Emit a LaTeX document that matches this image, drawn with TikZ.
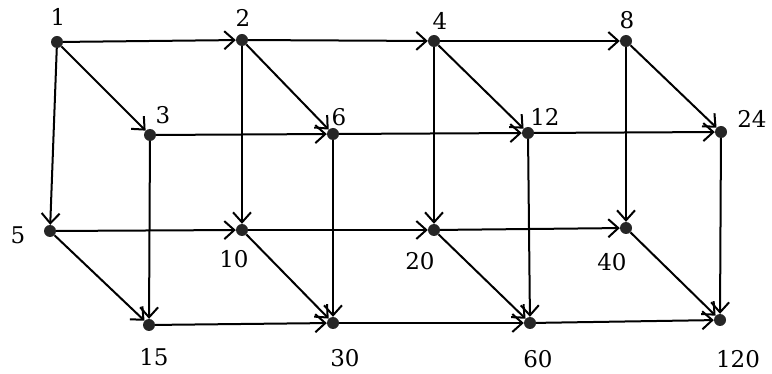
\documentclass[tikz,border=0pt]{standalone}
\usepackage{fontspec}
\setmainfont{DejaVu Serif}
\usetikzlibrary{arrows.meta}
\begin{document}
\begin{tikzpicture}[x=1pt,y=-1pt,
  vtx/.style={circle,fill=black!85,inner sep=0pt,minimum size=12pt},
  lbl/.style={font=\fontsize{23}{23}\selectfont,inner sep=0pt},
  edge/.style={line width=2pt,-{Straight Barb[length=10pt,width=18pt,line width=2pt]}}]
\useasboundingbox (0,0) rectangle (772,374);
\node[vtx] (n1) at (57,42) {};
\node[vtx] (n2) at (242,40) {};
\node[vtx] (n4) at (434,41) {};
\node[vtx] (n8) at (626,41) {};
\node[vtx] (n3) at (150,135) {};
\node[vtx] (n6) at (333,134) {};
\node[vtx] (n12) at (528,133) {};
\node[vtx] (n24) at (721,132) {};
\node[vtx] (n5) at (50,231) {};
\node[vtx] (n10) at (242,230) {};
\node[vtx] (n20) at (434,230) {};
\node[vtx] (n40) at (626,228) {};
\node[vtx] (n15) at (149,325) {};
\node[vtx] (n30) at (333,323) {};
\node[vtx] (n60) at (530,323) {};
\node[vtx] (n120) at (720,320) {};
\node[lbl] (l1) at (58,17) {1};
\node[lbl] (l2) at (243,18) {2};
\node[lbl] (l4) at (440,21) {4};
\node[lbl] (l8) at (627,20) {8};
\node[lbl] (l3) at (163,115) {3};
\node[lbl] (l6) at (339,117) {6};
\node[lbl] (l12) at (545,117) {12};
\node[lbl] (l24) at (752,119) {24};
\node[lbl] (l5) at (18,235) {5};
\node[lbl] (l10) at (234,259) {10};
\node[lbl] (l20) at (420,261) {20};
\node[lbl] (l40) at (612,262) {40};
\node[lbl] (l15) at (154,357) {15};
\node[lbl] (l30) at (345,358) {30};
\node[lbl] (l60) at (538,359) {60};
\node[lbl] (l120) at (738,359) {120};
\foreach \a/\b in {n1/n2,n2/n4,n4/n8,n3/n6,n6/n12,n12/n24,n5/n10,n10/n20,n20/n40,n15/n30,n30/n60,n60/n120,
  n1/n5,n2/n10,n4/n20,n8/n40,n3/n15,n6/n30,n12/n60,n24/n120,
  n1/n3,n2/n6,n4/n12,n8/n24,n5/n15,n10/n30,n20/n60,n40/n120}
  \draw[edge] (\a) -- (\b);
\end{tikzpicture}
\end{document}
